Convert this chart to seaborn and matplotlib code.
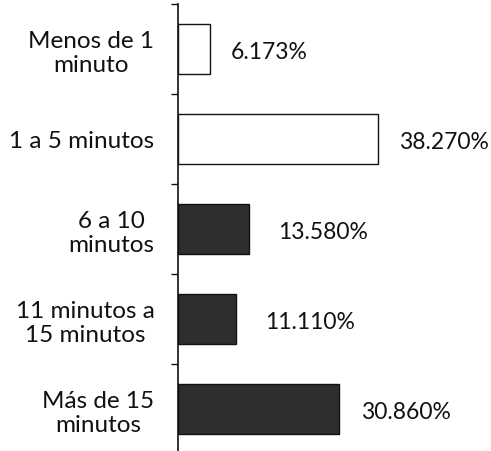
import matplotlib
matplotlib.use("Agg")
import matplotlib.pyplot as plt
import seaborn as sns
import pandas as pd

categories = ["Menos de 1\nminuto", "1 a 5 minutos", "6 a 10\nminutos",
              "11 minutos a\n15 minutos", "Más de 15\nminutos"]
values = [6.173, 38.270, 13.580, 11.110, 30.860]
value_labels = ["6.173%", "38.270%", "13.580%", "11.110%", "30.860%"]
bar_colors = ["#ffffff", "#ffffff", "#2e2e2e", "#2e2e2e", "#2e2e2e"]
label_pads = [15, 15, 21, 21, 16]

df = pd.DataFrame({"cat": categories, "val": values})

sns.set_theme(style="white")
plt.rcParams["font.family"] = ["Lato", "DejaVu Sans"]

fig = plt.figure(figsize=(4.91, 4.52), dpi=100)
ax = fig.add_axes([0.3625, 0.0, 0.6375, 447 / 452])

sns.barplot(data=df, y="cat", x="val", hue="cat", palette=bar_colors,
            orient="h", width=0.56, edgecolor="#111111", linewidth=1.0,
            legend=False, ax=ax)

for patch, lab, pad in zip(ax.patches, value_labels, label_pads):
    w = patch.get_width()
    yc = patch.get_y() + patch.get_height() / 2
    ax.annotate(lab, xy=(w, yc), xytext=(pad, -2), textcoords="offset points",
                ha="left", va="center", fontsize=16.5, color="#111111")

ax.set_xlim(0, 59.9)
ax.set_ylim(4.467, -0.5)
ax.set_xlabel("")
ax.set_ylabel("")
ax.set_xticks([])

ax.tick_params(axis="y", which="major", length=0, pad=17)
ax.set_yticks(range(len(categories)))
ax.set_yticklabels(categories, fontsize=17.5, color="#111111",
                   multialignment="center", linespacing=1.15)
ax.set_yticks([i - 0.5 for i in range(len(categories))], minor=True)
ax.tick_params(axis="y", which="minor", length=5, width=1, color="#111111",
               direction="out", left=True)

for side in ["top", "right", "bottom"]:
    ax.spines[side].set_visible(False)
ax.spines["left"].set_color("#111111")
ax.spines["left"].set_linewidth(1.2)

fig.savefig("out.png", dpi=100)
